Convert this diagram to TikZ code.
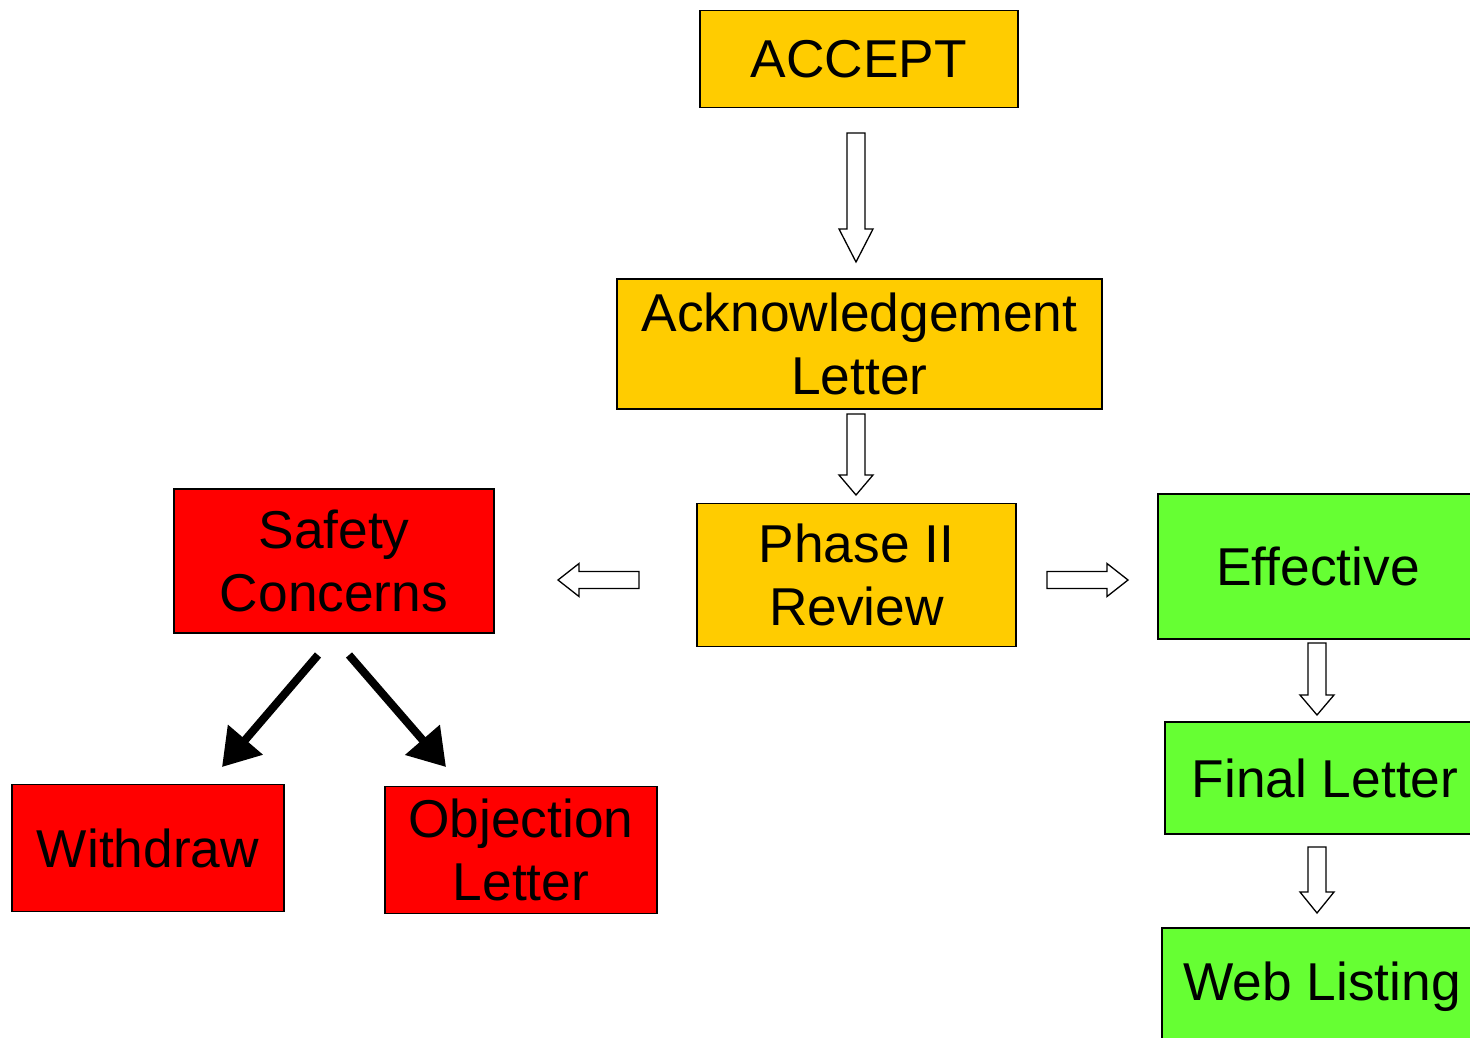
\documentclass[tikz,border=0pt]{standalone}
\usepackage{fontspec}
\setmainfont{Liberation Sans}
\usetikzlibrary{arrows.meta}
\definecolor{ambr}{HTML}{FFCC00}
\definecolor{rred}{HTML}{FF0000}
\definecolor{lgreen}{HTML}{66FF33}
\newcommand{\hollowV}[4]{% x, ytop, ybase, ytip
  \draw[hollowarrow] (#1-9,#2) -- (#1+9,#2) -- (#1+9,#3) -- (#1+17,#3) -- (#1,#4) -- (#1-17,#3) -- (#1-9,#3) -- cycle;}
\newcommand{\hollowH}[4]{% y, xstart, xbase, xtip
  \draw[hollowarrow] (#2,#1-8.5) -- (#3,#1-8.5) -- (#3,#1-16.5) -- (#4,#1) -- (#3,#1+16.5) -- (#3,#1+8.5) -- (#2,#1+8.5) -- cycle;}
\begin{document}
\begin{tikzpicture}[x=1pt,y=-1pt,
  box/.style={draw=black, line width=1.6pt, align=center, inner sep=0pt,
    font=\fontsize{53.3}{63}\selectfont},
  hollowarrow/.style={draw=black, fill=white, line width=1.3pt, line join=miter},
  thickarrow/.style={line width=8pt, -{Triangle[length=36pt,width=44pt]}}]
\useasboundingbox (0,0) rectangle (1470,1037);
\clip (0,0) rectangle (1470,1037);
\fill[white] (0,0) rectangle (1470,1037);
% yellow
\node[box, fill=ambr, minimum width=318, minimum height=97] (accept) at (859,59) {ACCEPT};
\node[box, fill=ambr, minimum width=485, minimum height=130] (ack) at (859.5,344) {Acknowledgement\\Letter};
\node[box, fill=ambr, minimum width=319, minimum height=143] (phase) at (856.5,575) {Phase II\\Review};
% red
\node[box, fill=rred, minimum width=320, minimum height=144] (safety) at (334,561) {Safety\\Concerns};
\node[box, fill=rred, minimum width=272, minimum height=127] (withdraw) at (148,848) {Withdraw};
\node[box, fill=rred, minimum width=272, minimum height=127] (objection) at (521,850) {Objection\\Letter};
% green
\node[box, fill=lgreen, minimum width=320, minimum height=145] (effective) at (1318,566.5) {Effective};
\node[box, fill=lgreen, minimum width=320, minimum height=112] (final) at (1325,778) {Final Letter};
\node[box, fill=lgreen, minimum width=320, minimum height=150] (web) at (1322,1003) {};
\node[font=\fontsize{53.3}{63}\selectfont, inner sep=0pt] (webtext) at (1322,987) {Web Listing};
% hollow arrows
\hollowV{856}{133}{229}{262}
\hollowV{856}{414}{475}{495}
\hollowV{1317}{643}{695}{715}
\hollowV{1317}{847}{892}{913}
\hollowH{580}{639}{579}{558}
\hollowH{580}{1047}{1107}{1128}
% thick arrows
\coordinate (s1) at (318,655);
\coordinate (t1) at (222,767);
\coordinate (s2) at (349,655);
\coordinate (t2) at (446,767);
\draw[thickarrow] (s1) -- (t1);
\draw[thickarrow] (s2) -- (t2);
\end{tikzpicture}
\end{document}
